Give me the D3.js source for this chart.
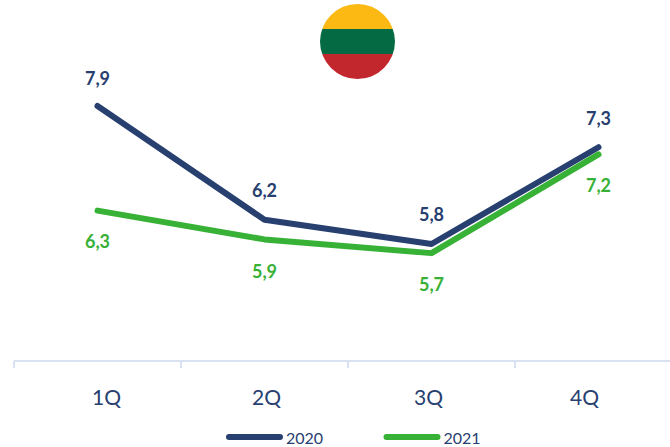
<!DOCTYPE html>
<html>
<head>
<meta charset="utf-8">
<script src="https://cdn.jsdelivr.net/npm/d3@7"></script>
<style>
html, body { margin: 0; padding: 0; background: #fff; }
svg { display: block; }
text { font-family: Lato, "Open Sans", sans-serif; }
</style>
</head>
<body>
<svg width="670" height="447"></svg>
<script>
var quarters = ["1Q", "2Q", "3Q", "4Q"];
var years = ["2020", "2021"];
var values2020 = [7.9, 6.16, 5.79, 7.27];
var values2021 = [6.3, 5.86, 5.65, 7.16];
var flagStripes = ["#FDB913", "#046A44", "#C1272D"];

var navy = "#27406F", green = "#37B136", axisColor = "#D9E2F0";

var svg = d3.select("svg");

var x = d3.scaleBand().domain(quarters).range([14, 682]);
var y = d3.scaleLinear().domain([4, 8]).range([361, 99.5]);

// x axis, labels in the original are not centred on the bands
var labelShift = {"1Q": 9, "2Q": 2, "3Q": -3, "4Q": -14};
var axis = svg.append("g")
    .attr("transform", "translate(0,361)")
    .call(d3.axisBottom(x).tickSize(0).tickPadding(0));
axis.select(".domain").remove();
axis.selectAll("text")
    .attr("y", 0)
    .attr("dy", 0)
    .attr("transform", function(d) { return "translate(" + labelShift[d] + ",44)"; })
    .style("font-size", "21px")
    .style("fill", navy);

svg.append("line")
    .attr("x1", 14).attr("x2", 670)
    .attr("y1", 361).attr("y2", 361)
    .attr("stroke", axisColor)
    .attr("stroke-width", 2);

svg.selectAll(".tick-mark")
    .data(quarters)
    .enter().append("line")
    .attr("class", "tick-mark")
    .attr("x1", function(d) { return x(d); })
    .attr("x2", function(d) { return x(d); })
    .attr("y1", 361).attr("y2", 368)
    .attr("stroke", axisColor)
    .attr("stroke-width", 2);

var line = d3.line()
    .x(function(d, i) { return x(quarters[i]) + x.bandwidth() / 2; })
    .y(function(d) { return y(d); });

var fmt = d3.format(".1f");

var series = [
    {name: years[0], values: values2020, color: navy, dy: [-21, -23, -23, -22]},
    {name: years[1], values: values2021, color: green, dy: [37, 39, 38, 38]}
];

series.forEach(function(s) {
    svg.append("path")
        .attr("d", line(s.values))
        .attr("fill", "none")
        .attr("stroke", s.color)
        .attr("stroke-width", 6)
        .attr("stroke-linecap", "round")
        .attr("stroke-linejoin", "round");

    svg.selectAll(".label-" + s.name)
        .data(s.values)
        .enter().append("text")
        .attr("class", "label-" + s.name)
        .attr("x", function(d, i) { return x(quarters[i]) + x.bandwidth() / 2; })
        .attr("y", function(d, i) { return y(d) + s.dy[i]; })
        .attr("text-anchor", "middle")
        .style("font-size", "18px")
        .style("font-weight", "bold")
        .style("fill", s.color)
        .text(function(d) { return fmt(d).replace(".", ","); });
});

// legend
var legend = svg.selectAll(".legend")
    .data(series)
    .enter().append("g")
    .attr("class", "legend")
    .attr("transform", function(d, i) { return "translate(" + (229 + i * 157.5) + ",437)"; });

legend.append("line")
    .attr("x1", 0).attr("x2", 51)
    .attr("stroke", function(d) { return d.color; })
    .attr("stroke-width", 6)
    .attr("stroke-linecap", "round");

legend.append("text")
    .attr("x", 57)
    .attr("y", 7)
    .style("font-size", "16px")
    .style("fill", navy)
    .text(function(d) { return d.name; });

// flag
var flag = {cx: 357.5, cy: 41.5, r: 37.5};
svg.append("clipPath").attr("id", "flag-clip")
    .append("circle").attr("cx", flag.cx).attr("cy", flag.cy).attr("r", flag.r);

var stripeY = d3.scaleBand().domain(d3.range(3)).range([flag.cy - flag.r, flag.cy + flag.r]);

svg.append("g").attr("clip-path", "url(#flag-clip)")
    .selectAll("rect")
    .data(flagStripes)
    .enter().append("rect")
    .attr("x", flag.cx - flag.r)
    .attr("y", function(d, i) { return stripeY(i); })
    .attr("width", flag.r * 2)
    .attr("height", stripeY.bandwidth())
    .attr("fill", function(d) { return d; });
</script>
</body>
</html>
